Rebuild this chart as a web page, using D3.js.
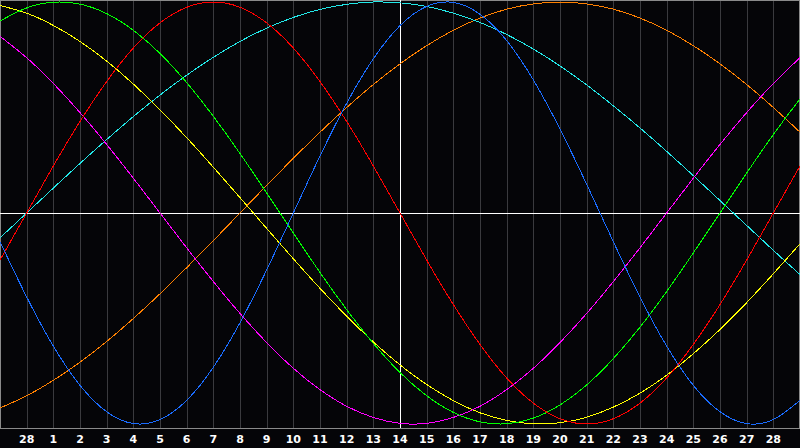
<!DOCTYPE html>
<html>
<head>
<meta charset="utf-8">
<script src="https://cdn.jsdelivr.net/npm/d3@7"></script>
<style>
  html, body { margin: 0; padding: 0; background: #050508; }
  svg { display: block; }
</style>
</head>
<body>
<div id="chart"></div>
<script>
"use strict";

/* day labels under the grid lines (previous month's 28th, then 1..28) */
const dayLabels = ["28","1","2","3","4","5","6","7","8","9","10","11","12","13","14",
  "15","16","17","18","19","20","21","22","23","24","25","26","27","28"];

/* curve values in percent, one per day column (31 columns across the chart) */
const physical     = [-13.6,-39.8,-63.1,-81.7,-94.2,-99.8,-97.9,-88.8,-73.1,-52.0,-27.0,0,27.0,52.0,73.1,88.8,97.9,99.8,94.2,81.7,63.1,39.8,13.6,-13.6,-39.8,-63.1,-81.7,-94.2,-99.8,-97.9,-88.8];
const emotional    = [-22.3,0,22.3,43.4,62.3,78.2,90.1,97.5,100,97.5,90.1,78.2,62.3,43.4,22.3,0,-22.3,-43.4,-62.3,-78.2,-90.1,-97.5,-100,-97.5,-90.1,-78.2,-62.3,-43.4,-22.3,0,22.3];
const intellectual = [91.0,97.2,99.9,99.0,94.5,86.6,75.6,61.8,45.8,28.2,9.5,-9.5,-28.2,-45.8,-61.8,-75.6,-86.6,-94.5,-99.0,-99.9,-97.2,-91.0,-81.5,-69.0,-54.1,-37.2,-18.9,0,18.9,37.2,54.1];
const intuitive    = [83.7,73.6,61.4,47.6,32.5,16.5,0,-16.5,-32.5,-47.6,-61.4,-73.6,-83.7,-91.6,-96.9,-99.7,-99.7,-96.9,-91.6,-83.7,-73.6,-61.4,-47.6,-32.5,-16.5,0,16.5,32.5,47.6,61.4,73.6];
const aesthetic    = [98.3,94.7,88.9,81.3,72.0,61.1,48.9,35.7,21.7,7.3,-7.3,-21.7,-35.7,-48.9,-61.1,-72.0,-81.3,-88.9,-94.7,-98.3,-99.9,-99.4,-96.8,-92.0,-85.4,-76.9,-66.7,-55.2,-42.5,-28.8,-14.6];
const awareness    = [-92.4,-86.6,-79.3,-70.7,-60.9,-50.0,-38.3,-25.9,-13.1,0,13.1,25.9,38.3,50.0,60.9,70.7,79.3,86.6,92.4,96.6,99.1,100,99.1,96.6,92.4,86.6,79.3,70.7,60.9,50.0,38.3];
const spiritual    = [-11.8,0,11.8,23.5,34.8,45.7,55.9,65.3,73.8,81.3,87.6,92.7,96.5,98.9,100,99.6,97.9,94.7,90.3,84.6,77.7,69.7,60.7,50.8,40.3,29.2,17.7,5.9,-5.9,-17.7,-29.2];

const todayIndex = 15;   // column of the "14" line

const chart = {};

function initialize(div_id) {
  chart.width  = 800;
  chart.height = 448;
  chart.plotBottom = 428;

  chart.svg = d3.select(div_id)
    .append("svg")
    .attr("width", chart.width)
    .attr("height", chart.height);

  /* background */
  chart.svg.append("rect")
    .attr("width", chart.width)
    .attr("height", chart.height)
    .attr("fill", "#050508");

  chart.xScale = d3.scaleLinear()
    .domain([0, 30])
    .range([0, chart.width]);

  chart.yScale = d3.scaleLinear()
    .domain([-100, 100])
    .range([424, 2]);
}

function render() {
  const x = chart.xScale, y = chart.yScale;
  const crisp = v => Math.round(v) + 0.5;

  /* vertical day grid lines */
  chart.svg.selectAll(".grid")
    .data(dayLabels)
    .enter().append("line")
    .attr("class", "grid")
    .attr("x1", (d, i) => crisp(x(i + 1)))
    .attr("x2", (d, i) => crisp(x(i + 1)))
    .attr("y1", 0)
    .attr("y2", chart.plotBottom)
    .attr("stroke", "#3a3a3e")
    .attr("stroke-width", 1);

  /* frame round the plot, bottom edge doubles as the axis */
  chart.svg.append("rect")
    .attr("x", 0.5)
    .attr("y", 0.5)
    .attr("width", chart.width - 1)
    .attr("height", chart.plotBottom)
    .attr("fill", "none")
    .attr("stroke", "#8a8a8a")
    .attr("stroke-width", 1);

  /* zero line and today line */
  chart.svg.append("line")
    .attr("x1", 0).attr("x2", chart.width)
    .attr("y1", crisp(y(0))).attr("y2", crisp(y(0)))
    .attr("stroke", "#ffffff");

  chart.svg.append("line")
    .attr("x1", crisp(x(todayIndex))).attr("x2", crisp(x(todayIndex)))
    .attr("y1", 0).attr("y2", chart.plotBottom)
    .attr("stroke", "#ffffff");

  /* the seven cycles */
  const series = [
    { values: awareness,    color: "#ff8000" },
    { values: spiritual,    color: "#22e8e8" },
    { values: aesthetic,    color: "#ffff00" },
    { values: intuitive,    color: "#ff00ff" },
    { values: intellectual, color: "#00ff00" },
    { values: emotional,    color: "#ff0000" },
    { values: physical,     color: "#1a6cff" }
  ];

  const line = d3.line()
    .x((d, i) => x(i))
    .y(d => y(d))
    .curve(d3.curveNatural);

  chart.svg.selectAll(".cycle")
    .data(series)
    .enter().append("path")
    .attr("class", "cycle")
    .attr("d", d => line(d.values))
    .attr("fill", "none")
    .attr("stroke", d => d.color)
    .attr("stroke-width", 1)
    .attr("shape-rendering", "crispEdges");

  /* day labels */
  chart.svg.selectAll(".dayText")
    .data(dayLabels)
    .enter().append("text")
    .attr("class", "dayText")
    .attr("x", (d, i) => x(i + 1))
    .attr("y", 443)
    .text(d => d)
    .style("text-anchor", "middle")
    .style("font-family", "'DejaVu Sans', sans-serif")
    .style("font-size", "11px")
    .style("font-weight", "bold")
    .style("fill", "#ffffff");
}

initialize("#chart");
render();
</script>
</body>
</html>
